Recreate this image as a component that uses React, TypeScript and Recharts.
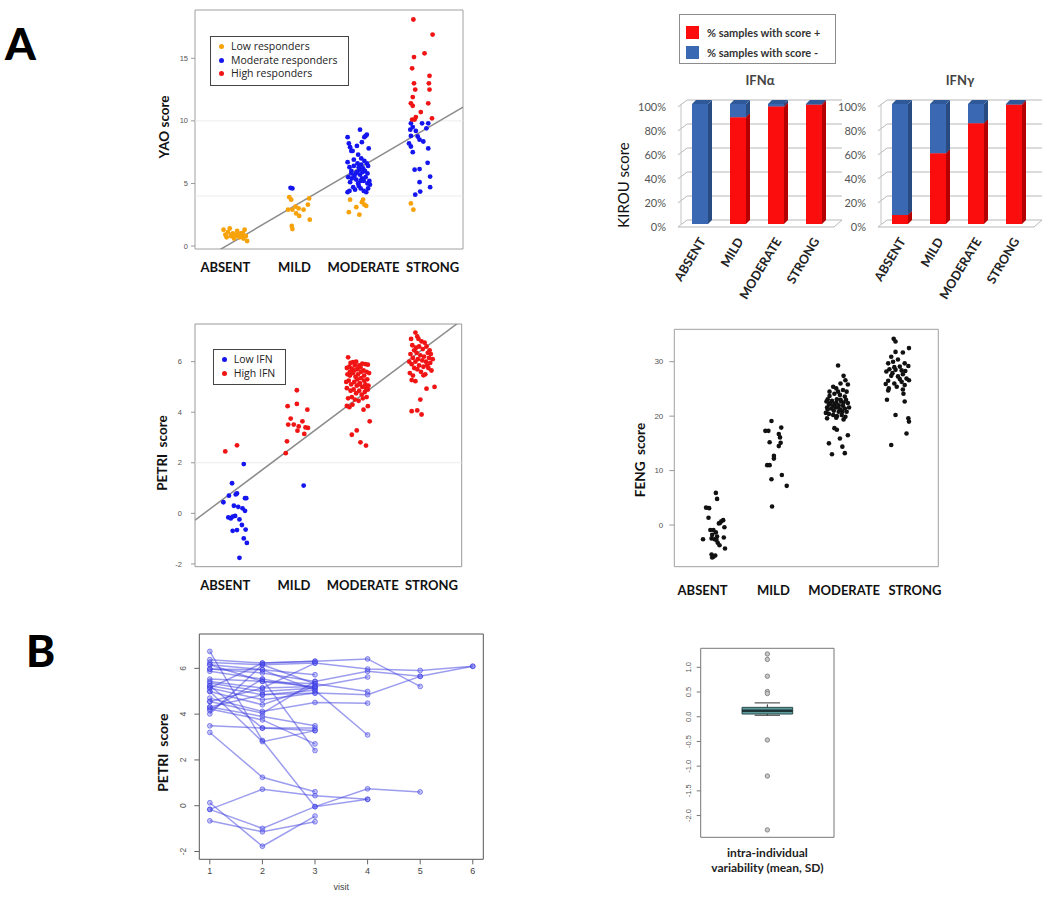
import {
  ScatterChart,
  Scatter,
  BarChart,
  Bar,
  XAxis,
  YAxis,
  CartesianGrid,
  ReferenceArea,
  ReferenceLine,
  Legend,
} from "recharts";

const LABEL_FONT = 'Lato, "Open Sans", sans-serif';
const NUM_FONT = '"Liberation Sans", Arial, sans-serif';

const severity = ["ABSENT", "MILD", "MODERATE", "STRONG"];

// YAO score, x = severity group (1..4) + jitter
const yaoLow = [
  [0.8, 1.3], [0.83, 0.9], [0.85, 0.7], [0.87, 1.1], [0.9, 1.4], [0.92, 0.8], [0.95, 1.0], [0.97, 0.6],
  [1.0, 0.9], [1.02, 1.2], [1.04, 0.8], [1.06, 0.7], [1.08, 1.0], [1.1, 0.9], [1.12, 0.6], [1.14, 1.3],
  [1.16, 0.8], [1.18, 0.4], [0.93, 0.9], [1.05, 0.95], [0.98, 0.75], [1.11, 1.05],
  [1.86, 3.9], [1.89, 3.7], [1.84, 2.9], [1.91, 2.9], [1.97, 2.6], [2.02, 2.4], [2.09, 2.9], [2.16, 3.3],
  [2.18, 3.8], [2.19, 2.1], [1.9, 1.6], [1.91, 1.35], [2.01, 3.0], [1.96, 3.15],
  [2.82, 2.7], [2.84, 3.7], [2.94, 3.1], [2.99, 2.5], [3.03, 3.5], [3.07, 3.3], [3.1, 3.2], [3.05, 3.7],
  [3.82, 3.4], [3.86, 2.9],
];
const yaoMid = [
  [1.88, 4.65], [1.91, 4.6],
  [2.8, 8.7], [2.82, 8.2], [2.84, 7.9], [2.86, 7.6], [2.88, 7.6], [2.95, 8.0], [3.0, 9.3], [3.03, 8.3],
  [3.07, 8.7], [3.09, 8.8], [3.11, 8.9], [3.14, 7.8], [2.97, 7.3], [3.02, 7.0], [2.8, 6.7], [2.83, 6.3],
  [2.86, 6.0], [2.9, 6.4], [2.93, 5.8], [2.96, 6.6], [2.99, 6.1], [3.02, 6.5], [3.05, 6.2], [3.08, 6.0],
  [3.11, 6.6], [3.13, 6.4], [2.81, 5.5], [2.84, 5.1], [2.87, 5.4], [2.91, 5.6], [2.94, 5.3], [2.97, 5.0],
  [3.0, 5.7], [3.03, 5.4], [3.06, 5.2], [3.09, 5.5], [3.12, 5.0], [3.15, 5.2], [2.8, 4.3], [2.83, 4.4],
  [2.89, 4.7], [2.92, 4.5], [2.98, 4.8], [3.01, 4.6], [3.06, 4.4], [3.1, 4.3], [3.13, 4.6], [3.16, 4.9],
  [2.95, 5.9], [3.04, 5.9], [3.07, 6.8], [2.9, 6.9], [2.86, 5.8], [3.12, 5.8], [2.98, 6.3], [3.01, 5.2],
  [3.82, 9.8], [4.0, 9.8], [4.1, 9.8], [3.85, 9.5], [4.07, 9.4], [3.81, 9.3], [3.9, 9.2], [3.82, 8.8],
  [3.93, 8.75], [3.79, 8.2], [3.96, 8.5], [4.02, 8.35], [3.82, 7.95], [4.1, 7.8], [3.85, 7.5], [3.88, 6.1],
  [3.96, 6.15], [4.09, 6.65], [3.96, 5.1], [4.13, 5.55], [4.13, 4.7], [3.97, 4.35], [3.89, 4.1],
];
const yaoHigh = [
  [3.86, 18.1], [4.17, 16.9], [4.04, 15.4], [3.87, 15.1], [3.84, 14.2], [4.12, 13.6], [3.87, 13.0],
  [4.11, 13.0], [3.89, 12.5], [4.12, 12.5], [3.85, 11.9], [3.82, 11.4], [3.85, 11.2], [4.1, 11.4],
  [3.98, 10.7], [3.9, 10.3], [3.88, 10.1], [3.84, 10.1], [4.16, 10.2],
];
const yaoFit = [[0.34, -1.46], [4.66, 11.09]];
const yaoGroups = ["Low responders", "Moderate responders", "High responders"];
const yaoColors = ["#f7a20a", "#1515f0", "#f01414"];

// PETRI score
const petriLow = [
  [1.13, 1.95], [0.94, 1.19], [0.89, 0.7], [1.0, 0.75], [1.02, 0.79], [1.15, 0.6], [1.17, 0.6], [0.8, 0.44],
  [0.97, 0.3], [1.04, 0.26], [1.11, 0.2], [1.15, 0.1], [0.88, -0.16], [0.95, -0.13], [0.99, -0.1],
  [0.92, -0.2], [1.06, -0.24], [1.1, -0.46], [1.16, -0.64], [0.95, -0.69], [1.02, -0.66], [1.13, -0.99],
  [1.18, -1.17], [1.06, -1.76],
  [2.1, 1.1],
];
const petriHigh = [
  [0.83, 2.45], [1.02, 2.69],
  [1.99, 4.87], [1.84, 4.24], [1.99, 4.33], [2.16, 4.1], [1.89, 3.75], [2.08, 3.64], [1.85, 3.51],
  [1.94, 3.51], [2.02, 3.44], [2.13, 3.4], [2.17, 3.38], [2.0, 3.27], [2.11, 3.14], [1.83, 2.85], [1.81, 2.38],
  [2.82, 6.17], [2.86, 5.95], [2.9, 5.98], [2.95, 6.0], [3.0, 5.85], [3.05, 5.92], [3.1, 5.9], [3.14, 5.88],
  [2.8, 5.75], [2.84, 5.8], [2.88, 5.72], [2.93, 5.85], [2.97, 5.7], [3.02, 5.78], [3.07, 5.65], [3.12, 5.6],
  [3.16, 5.55], [2.81, 5.5], [2.85, 5.45], [2.9, 5.55], [2.94, 5.4], [2.98, 5.5], [3.03, 5.35], [3.08, 5.45],
  [3.13, 5.3], [2.79, 5.2], [2.83, 5.25], [2.87, 5.1], [2.92, 5.2], [2.96, 5.05], [3.01, 5.15], [3.05, 5.0],
  [3.1, 5.1], [3.15, 5.05], [2.8, 4.95], [2.86, 4.85], [2.91, 4.9], [2.95, 4.75], [3.0, 4.85], [3.04, 4.7],
  [3.09, 4.8], [3.14, 4.9], [2.82, 4.55], [2.88, 4.6], [2.93, 4.5], [2.99, 4.45], [3.06, 4.55], [3.12, 4.6],
  [2.8, 4.25], [2.84, 4.2], [2.89, 4.3], [3.07, 4.1], [3.14, 4.24], [3.17, 3.64], [2.88, 3.11], [2.96, 3.28],
  [3.02, 2.81], [3.11, 2.68], [2.97, 5.3], [3.03, 5.6], [3.08, 5.25], [2.92, 5.65], [3.11, 4.95], [2.85, 5.6],
  [3.0, 5.1],
  [3.91, 7.15], [3.94, 7.0], [3.84, 6.9], [4.01, 6.8], [4.06, 6.75], [4.09, 6.6], [3.86, 6.65], [3.97, 6.6],
  [4.03, 6.5], [3.89, 6.45], [3.93, 6.35], [4.11, 6.35], [4.16, 6.3], [3.83, 6.3], [3.99, 6.25], [4.05, 6.2],
  [4.13, 6.15], [3.87, 6.15], [3.95, 6.1], [4.02, 6.05], [4.19, 6.1], [3.81, 6.0], [3.91, 6.0], [4.08, 6.0],
  [4.15, 5.95], [3.85, 5.9], [3.97, 5.85], [4.04, 5.8], [4.12, 5.75], [3.89, 5.75], [3.94, 5.7], [4.17, 5.65],
  [3.82, 5.55], [4.0, 5.6], [4.07, 5.5], [3.87, 5.45], [4.04, 5.46], [3.85, 5.27], [3.91, 5.23], [4.22, 5.0],
  [4.09, 4.93], [3.99, 4.5], [3.85, 4.04], [3.94, 4.07], [4.01, 3.91], [4.14, 6.45], [3.96, 6.9], [4.1, 5.85],
  [3.92, 6.55],
];
const petriFit = [[0.34, -0.27], [4.66, 7.64]];
const petriGroups = ["Low IFN", "High IFN"];
const petriColors = ["#1515f0", "#f01414"];

// FENG score
const feng = [
  [1.02, 5.9], [1.04, 4.8], [0.86, 3.2], [0.91, 3.1], [0.9, 1.35], [1.11, 0.7], [1.14, 0.9], [1.07, 0.3],
  [1.16, -0.4], [0.93, -0.9], [0.98, -0.9], [1.02, -1.35], [0.96, -1.8], [1.04, -2.1], [0.81, -2.6],
  [0.95, -2.45], [1.0, -2.6], [1.15, -2.3], [1.08, -3.7], [1.05, -3.25], [1.17, -4.3], [0.95, -5.4],
  [0.98, -5.8], [1.01, -5.6], [0.96, -5.95], [1.03, -2.75], [1.09, 0.4],
  [1.93, 19.1], [1.83, 17.3], [1.88, 17.3], [2.09, 17.9], [2.05, 16.7], [2.07, 16.1], [1.9, 15.2], [2.08, 15.1],
  [2.05, 14.5], [1.97, 12.7], [1.97, 12.2], [1.86, 11.0], [1.9, 11.0], [2.1, 9.2], [1.93, 8.4], [2.18, 7.2],
  [1.94, 3.4],
  [3.02, 29.3], [3.11, 27.4], [3.14, 26.6], [3.18, 25.8], [3.06, 26.0], [2.94, 25.4], [2.99, 25.1], [3.1, 24.8],
  [2.88, 24.5], [2.96, 24.1], [3.05, 23.9], [3.13, 23.6], [2.85, 23.1], [2.92, 22.8], [3.0, 23.1], [3.07, 22.7],
  [3.15, 23.0], [2.83, 22.7], [2.89, 22.4], [2.96, 22.2], [3.03, 22.0], [3.1, 21.9], [3.18, 22.4], [2.84, 21.6],
  [2.91, 21.4], [2.98, 21.6], [3.06, 21.2], [3.13, 21.4], [3.2, 21.6], [2.82, 20.6], [2.87, 20.4], [2.94, 20.2],
  [3.0, 20.0], [3.08, 20.2], [3.14, 19.9], [2.84, 19.6], [2.99, 19.7], [3.11, 19.4], [2.96, 17.8], [3.0, 17.5],
  [3.18, 16.5], [3.05, 15.9], [2.87, 15.0], [3.09, 14.4], [2.92, 13.0], [3.13, 13.2], [3.02, 21.6], [2.95, 21.0],
  [3.09, 20.8], [3.16, 20.8], [2.88, 23.7], [3.02, 24.5], [3.16, 24.5], [2.85, 21.2], [3.03, 20.8], [2.94, 21.9],
  [3.11, 22.5], [2.99, 22.5], [2.87, 22.1], [3.06, 23.0],
  [3.93, 34.2], [3.96, 33.7], [4.18, 32.5], [4.08, 31.7], [3.96, 31.8], [3.89, 30.9], [4.0, 30.4], [3.92, 30.0],
  [3.84, 29.7], [4.11, 29.7], [4.17, 29.2], [4.03, 29.1], [3.86, 28.6], [3.96, 28.5], [4.06, 28.4], [3.81, 28.2],
  [3.91, 27.9], [4.08, 27.7], [4.0, 27.3], [4.14, 26.9], [4.18, 26.6], [3.84, 26.5], [4.06, 26.3], [3.94, 26.0],
  [3.8, 25.9], [4.11, 25.7], [3.98, 25.4], [3.85, 25.1], [4.08, 24.9], [3.84, 24.7], [4.09, 24.1], [3.82, 23.0],
  [4.11, 22.7], [3.96, 20.2], [4.17, 19.6], [4.18, 19.0], [4.14, 16.8], [3.89, 14.7], [4.03, 26.8], [3.89, 27.4],
  [4.12, 28.3], [3.94, 29.0],
];

// KIROU score (% of samples)
const ifnAlphaPos = [0, 89, 98, 99.5];
const ifnAlphaNeg = [100, 11, 2, 0.5];
const ifnGammaPos = [7.5, 59, 84, 99.5];
const ifnGammaNeg = [92.5, 41, 16, 0.5];
const kirouSeries = ["% samples with score +", "% samples with score -"];
const kirouColors = ["#fb0d0d", "#3b68b3"];

// PETRI score per visit, one row per patient
const patientScores = [
  [6.74, 2.85, -0.04, 0.28],
  [6.38, 6.23, 6.31, 6.41, 5.21],
  [6.26, 6.16, 6.23, 5.97, 5.91, 6.09],
  [6.16, 5.94, 5.72],
  [5.97, 5.8, 5.43, 5.87, 5.65, 6.09],
  [5.87, 5.53, 2.41],
  [5.53, 5.43, 5.33, 4.99],
  [5.43, 5.14, 5.21, 5.62],
  [5.36, 4.99, 5.14],
  [5.24, 4.85, 5.04, 3.09],
  [5.14, 4.63, 4.92, 4.85, 5.65],
  [4.99, 4.41, 5.21],
  [4.7, 4.12, 4.51, 4.48],
  [4.55, 4.04, 5.43],
  [4.31, 3.9, 3.49],
  [4.22, 3.75, 2.7],
  [4.16, 5.53, 5.14],
  [4.01, 6.16, 5.33],
  [3.49, 3.39, 3.39],
  [3.2, 1.24, 0.61],
  [5.14, 6.23, 6.31],
  [4.99, 2.8, 3.28],
  [0.13, -1.77, -0.45],
  [-0.16, 0.72, 0.44, 0.28],
  [-0.16, -0.99, -0.04, 0.74, 0.6],
  [-0.66, -1.14, -0.7],
  [5.97, 5.94, 5.04],
  [6.16, 5.43, 5.21],
  [4.31, 4.85, 4.92],
  [5.24, 3.39, 3.28],
  [4.55, 5.14, 6.23],
];

// intra-individual variability: lower whisker, Q1, median, Q3, upper whisker
const boxStats = [0.03, 0.055, 0.12, 0.19, 0.28];
const boxOutliers = [1.27, 1.16, 0.82, 0.51, 0.47, -0.47, -1.2, -2.29];

const pts = (a: number[][]) => a.map(([x, y]) => ({ x, y }));
const labelAnchors = severity.map((_, i) => ({ x: i + 1, y: 0 }));

const dot = (color: string, r = 2.4) => (p: any) => (
  <circle cx={p.cx} cy={p.cy} r={r} fill={color} />
);
const noDot = () => <g />;

const catTick = (dy: number) => (p: any) => (
  <text
    x={p.x}
    y={p.y + dy}
    textAnchor="middle"
    fontFamily={LABEL_FONT}
    fontWeight={700}
    fontSize={13}
    fill="#111"
  >
    {severity[Math.round(p.payload.value) - 1]}
  </text>
);

const yTick =
  (size: number, rotate: boolean, fmt = (v: number) => String(v)) =>
  (p: any) => {
    const { x, y, payload } = p;
    if (rotate) {
      return (
        <text
          x={x}
          y={y}
          transform={`rotate(-90 ${x} ${y})`}
          textAnchor="middle"
          fontSize={size}
          fontFamily={NUM_FONT}
          fill="#555"
        >
          {fmt(payload.value)}
        </text>
      );
    }
    return (
      <text x={x} y={y} dy="0.35em" textAnchor="end" fontSize={size} fontFamily={NUM_FONT} fill="#555">
        {fmt(payload.value)}
      </text>
    );
  };

const yTitle =
  (text: string, dx: number, dy: number, size = 13.5, weight = 700) =>
  ({ viewBox }: any) => {
    const cx = viewBox.x + dx;
    const cy = viewBox.y + viewBox.height / 2 + dy;
    return (
      <text
        x={cx}
        y={cy}
        transform={`rotate(-90 ${cx} ${cy})`}
        textAnchor="middle"
        dominantBaseline="central"
        fontFamily={LABEL_FONT}
        fontWeight={weight}
        fontSize={size}
        fill="#111"
        style={{ whiteSpace: "pre" }}
      >
        {text}
      </text>
    );
  };

const dotLegend = (names: string[], colors: string[]) => () => (
  <div
    style={{
      border: "1px solid #444",
      background: "#fff",
      padding: "3px 10px 4px 8px",
      fontFamily: '"Open Sans", sans-serif',
      fontSize: 10.5,
      color: "#222",
      lineHeight: "13.5px",
      whiteSpace: "nowrap",
    }}
  >
    {names.map((n, i) => (
      <div key={n} style={{ display: "flex", alignItems: "center" }}>
        <span style={{ width: 5, height: 5, borderRadius: 3, background: colors[i], marginRight: 7 }} />
        {n}
      </div>
    ))}
  </div>
);

const frame = (x: number[], y: number[], color: string) => (
  <ReferenceArea
    x1={x[0]}
    x2={x[1]}
    y1={y[0]}
    y2={y[1]}
    fill="none"
    stroke={color}
    ifOverflow="visible"
  />
);

const bar3d = (side: string, top: string) => (p: any) => {
  const { x, y, width: w, height: h, fill } = p;
  if (!h || h <= 0) return <g />;
  const d = 4;
  return (
    <g>
      <path d={`M${x + w},${y} l${d},${-d} v${h} l${-d},${d} Z`} fill={side} />
      <path d={`M${x},${y} l${d},${-d} h${w} l${-d},${d} Z`} fill={top} />
      <rect x={x} y={y} width={w} height={h} fill={fill} />
    </g>
  );
};

const wallLine = (p: any) => {
  const { x1, x2, y1 } = p;
  const bottom = p.y != null && p.height != null ? p.y + p.height : 134;
  let d = `M${x1 - 3},${y1 + 3} L${x1 + 6},${y1 - 4} H${x2 + 9}`;
  if (Math.abs(y1 - bottom) < 1) d += ` M${x1 - 3},${y1 + 3} H${x2 + 1} L${x2 + 9},${y1 - 4}`;
  return <path key={`w-${y1}`} d={d} stroke="#b8b8b8" fill="none" />;
};

const rotTick = (p: any) => (
  <text
    x={p.x + 6}
    y={p.y + 17}
    transform={`rotate(-59 ${p.x + 6} ${p.y + 17})`}
    textAnchor="end"
    fontFamily={LABEL_FONT}
    fontWeight={700}
    fontSize={12.5}
    fill="#222"
  >
    {p.payload.value}
  </text>
);

const pctTick = (p: any) => (
  <text x={p.x} y={p.y + 3} dy="0.35em" textAnchor="end" fontFamily={LABEL_FONT} fontSize={11} fill="#555">
    {p.payload.value}%
  </text>
);

const KirouChart = ({ pos, neg, left }: { pos: number[]; neg: number[]; left: number }) => {
  const data = severity.map((cat, i) => ({ cat, pos: pos[i], neg: neg[i] }));
  const withTitle = left < 700;
  return (
    <div style={{ position: "absolute", left, top: 90 }}>
      <BarChart width={245} height={214} data={data} margin={{ top: 14, right: 12, bottom: 0, left: 0 }}>
        <CartesianGrid vertical={false} horizontal={wallLine} />
        <XAxis
          dataKey="cat"
          tickLine={false}
          axisLine={false}
          height={80}
          tickSize={0}
          tickMargin={0}
          interval={0}
          tick={rotTick}
        />
        <YAxis
          domain={[0, 100]}
          ticks={[0, 20, 40, 60, 80, 100]}
          width={81}
          tickLine={false}
          tickSize={0}
          tickMargin={15}
          axisLine={{ stroke: "#c4c4c4" }}
          tick={pctTick}
          label={withTitle ? { content: yTitle("KIROU score", 23, 21, 15, 400) } : undefined}
        />
        <Bar
          dataKey="pos"
          stackId="k"
          fill={kirouColors[0]}
          barSize={16}
          shape={bar3d("#b40000", "#d80000")}
          isAnimationActive={false}
        />
        <Bar
          dataKey="neg"
          stackId="k"
          fill={kirouColors[1]}
          barSize={16}
          shape={bar3d("#284b82", "#30599a")}
          isAnimationActive={false}
        />
      </BarChart>
    </div>
  );
};

const App = () => {
  return (
    <div
      style={{
        position: "absolute",
        left: 0,
        top: 0,
        width: 1050,
        height: 899,
        background: "#fff",
        overflow: "hidden",
      }}
    >
      <svg width={1050} height={899} style={{ position: "absolute", left: 0, top: 0 }}>
        <text x={5} y={60} fontFamily={LABEL_FONT} fontWeight={900} fontSize={44} fill="#000">
          A
        </text>
        <text x={26} y={667} fontFamily={LABEL_FONT} fontWeight={900} fontSize={44} fill="#000">
          B
        </text>
        <text x={760} y={85} textAnchor="middle" fontFamily={LABEL_FONT} fontWeight={700} fontSize={13} fill="#444">
          IFNα
        </text>
        <text x={960} y={85} textAnchor="middle" fontFamily={LABEL_FONT} fontWeight={700} fontSize={13} fill="#444">
          IFNγ
        </text>
      </svg>

      {/* YAO */}
      <div style={{ position: "absolute", left: 140, top: 0 }}>
        <ScatterChart width={340} height={290} margin={{ top: 10, right: 17, bottom: 0, left: 0 }}>
          <XAxis
            type="number"
            dataKey="x"
            domain={[0.34, 4.66]}
            ticks={[1, 2, 3, 4]}
            tick={false}
            tickSize={4}
            height={8}
            axisLine={false}
            tickLine={{ stroke: "#999" }}
            allowDataOverflow
          />
          <XAxis
            xAxisId="lab"
            type="number"
            dataKey="x"
            domain={[0.56, 4.44]}
            ticks={[1, 2, 3, 4]}
            tick={catTick(15)}
            tickSize={0}
            tickMargin={0}
            height={33}
            axisLine={false}
            tickLine={false}
            allowDataOverflow
          />
          <YAxis
            type="number"
            dataKey="y"
            domain={[-0.24, 18.86]}
            ticks={[0, 5, 10, 15]}
            width={55}
            tickSize={4}
            tickMargin={3}
            tickLine={{ stroke: "#999" }}
            axisLine={false}
            tick={yTick(7.5, false)}
            allowDataOverflow
            label={{ content: yTitle("YAO score", 24, -2.5) }}
          />
          {frame([0.34, 4.66], [-0.24, 18.86], "#a0a0a0")}
          <ReferenceLine y={10} stroke="#ececec" />
          <ReferenceLine y={4} stroke="#ececec" />
          <ReferenceLine
            segment={pts(yaoFit)}
            stroke="#8c8c8c"
            strokeWidth={1.5}
            ifOverflow="hidden"
          />
          <Scatter xAxisId="lab" data={labelAnchors} shape={noDot} legendType="none" isAnimationActive={false} />
          <Scatter name={yaoGroups[0]} data={pts(yaoLow)} fill={yaoColors[0]} shape={dot(yaoColors[0])} isAnimationActive={false} />
          <Scatter name={yaoGroups[1]} data={pts(yaoMid)} fill={yaoColors[1]} shape={dot(yaoColors[1])} isAnimationActive={false} />
          <Scatter name={yaoGroups[2]} data={pts(yaoHigh)} fill={yaoColors[2]} shape={dot(yaoColors[2])} isAnimationActive={false} />
          <Legend
            layout="vertical"
            align="center"
            verticalAlign="middle"
            content={dotLegend(yaoGroups, yaoColors)}
            wrapperStyle={{ left: 70, top: 36, width: "auto" }}
          />
        </ScatterChart>
      </div>

      {/* KIROU */}
      <div
        style={{
          position: "absolute",
          left: 679,
          top: 14,
          width: 157,
          height: 50,
          border: "1px solid #8c8c8c",
          boxSizing: "border-box",
          padding: "7px 0 0 6px",
          fontFamily: LABEL_FONT,
          fontWeight: 700,
          fontSize: 11,
          color: "#333",
        }}
      >
        {kirouSeries.map((s, i) => (
          <div key={s} style={{ display: "flex", alignItems: "center", height: 20 }}>
            <span style={{ width: 13, height: 13, background: kirouColors[i], marginRight: 8 }} />
            {s}
          </div>
        ))}
      </div>
      <KirouChart pos={ifnAlphaPos} neg={ifnAlphaNeg} left={600} />
      <KirouChart pos={ifnGammaPos} neg={ifnGammaNeg} left={800} />

      {/* PETRI */}
      <div style={{ position: "absolute", left: 140, top: 300 }}>
        <ScatterChart width={340} height={300} margin={{ top: 24, right: 18.3, bottom: 0, left: 0 }}>
          <XAxis
            type="number"
            dataKey="x"
            domain={[0.34, 4.66]}
            ticks={[1, 2, 3, 4]}
            tick={false}
            tickSize={4}
            height={8}
            axisLine={false}
            tickLine={{ stroke: "#999" }}
            allowDataOverflow
          />
          <XAxis
            xAxisId="lab"
            type="number"
            dataKey="x"
            domain={[0.56, 4.44]}
            ticks={[1, 2, 3, 4]}
            tick={catTick(15.5)}
            tickSize={0}
            tickMargin={0}
            height={25.3}
            axisLine={false}
            tickLine={false}
            allowDataOverflow
          />
          <YAxis
            type="number"
            dataKey="y"
            domain={[-2.11, 7.49]}
            ticks={[-2, 0, 2, 4, 6]}
            width={55}
            tickSize={4}
            tickMargin={9}
            tickLine={{ stroke: "#999" }}
            axisLine={false}
            tick={yTick(7.5, false)}
            allowDataOverflow
            label={{ content: yTitle("PETRI  score", 21.7, 7.7) }}
          />
          {frame([0.34, 4.66], [-2.11, 7.49], "#999")}
          <ReferenceLine y={2} stroke="#ececec" />
          <ReferenceLine
            segment={pts(petriFit)}
            stroke="#8c8c8c"
            strokeWidth={1.5}
            ifOverflow="hidden"
          />
          <Scatter xAxisId="lab" data={labelAnchors} shape={noDot} legendType="none" isAnimationActive={false} />
          <Scatter name={petriGroups[0]} data={pts(petriLow)} fill={petriColors[0]} shape={dot(petriColors[0])} isAnimationActive={false} />
          <Scatter name={petriGroups[1]} data={pts(petriHigh)} fill={petriColors[1]} shape={dot(petriColors[1])} isAnimationActive={false} />
          <Legend
            layout="vertical"
            align="center"
            verticalAlign="middle"
            content={dotLegend(petriGroups, petriColors)}
            wrapperStyle={{ left: 72.7, top: 49, width: "auto" }}
          />
        </ScatterChart>
      </div>

      {/* FENG */}
      <div style={{ position: "absolute", left: 600, top: 310 }}>
        <ScatterChart width={360} height={300} margin={{ top: 19.3, right: 21.7, bottom: 0, left: 0 }}>
          <XAxis
            type="number"
            dataKey="x"
            domain={[0.34, 4.66]}
            ticks={[1, 2, 3, 4]}
            tick={false}
            tickSize={3}
            height={8}
            axisLine={false}
            tickLine={{ stroke: "#999" }}
            allowDataOverflow
          />
          <XAxis
            xAxisId="lab"
            type="number"
            dataKey="x"
            domain={[0.6, 4.33]}
            ticks={[1, 2, 3, 4]}
            tick={catTick(20)}
            tickSize={0}
            tickMargin={0}
            height={35.3}
            axisLine={false}
            tickLine={false}
            allowDataOverflow
          />
          <YAxis
            type="number"
            dataKey="y"
            domain={[-7.65, 35.95]}
            ticks={[0, 10, 20, 30]}
            width={74.3}
            tickSize={5}
            tickMargin={6}
            tickLine={{ stroke: "#999" }}
            axisLine={false}
            tick={yTick(8, false)}
            allowDataOverflow
            label={{ content: yTitle("FENG  score", 40, 12) }}
          />
          {frame([0.34, 4.66], [-7.65, 35.95], "#a0a0a0")}
          <Scatter xAxisId="lab" data={labelAnchors} shape={noDot} legendType="none" isAnimationActive={false} />
          <Scatter name="FENG" data={pts(feng)} fill="#111" shape={dot("#111", 2.3)} isAnimationActive={false} />
        </ScatterChart>
      </div>

      {/* PETRI over visits */}
      <div style={{ position: "absolute", left: 150, top: 625 }}>
        <ScatterChart width={345} height={274} margin={{ top: 9, right: 11.7, bottom: 0, left: 0 }}>
          <XAxis
            type="number"
            dataKey="x"
            domain={[0.8, 6.2]}
            ticks={[1, 2, 3, 4, 5, 6]}
            tickSize={5}
            tickMargin={3}
            height={39.7}
            axisLine={false}
            tickLine={{ stroke: "#666" }}
            tick={{ fontSize: 9, fontFamily: NUM_FONT, fill: "#444" }}
            allowDataOverflow
            label={{
              content: ({ viewBox }: any) => (
                <text
                  x={viewBox.x + viewBox.width / 2}
                  y={viewBox.y + 27.5}
                  textAnchor="middle"
                  dominantBaseline="central"
                  fontFamily={NUM_FONT}
                  fontSize={9}
                  fill="#444"
                >
                  visit
                </text>
              ),
            }}
          />
          <YAxis
            type="number"
            dataKey="y"
            domain={[-2.34, 7.5]}
            ticks={[-2, 0, 2, 4, 6]}
            width={49.3}
            tickSize={5}
            tickMargin={8}
            tickLine={{ stroke: "#666" }}
            axisLine={false}
            tick={yTick(8.5, true)}
            allowDataOverflow
            label={{ content: yTitle("PETRI  score", 13, 6, 14) }}
          />
          {frame([0.8, 6.2], [-2.34, 7.5], "#555")}
          {patientScores.map((scores, i) => (
            <Scatter
              key={i}
              data={scores.map((y, v) => ({ x: v + 1, y }))}
              fill="#4646e6"
              line={{ stroke: "#3c3ce0", strokeWidth: 1.5, strokeOpacity: 0.5 }}
              shape={(p: any) => (
                <circle
                  cx={p.cx}
                  cy={p.cy}
                  r={2.4}
                  fill="#5a5af0"
                  fillOpacity={0.35}
                  stroke="#3c3ce0"
                  strokeOpacity={0.55}
                />
              )}
              isAnimationActive={false}
            />
          ))}
        </ScatterChart>
      </div>

      {/* intra-individual variability */}
      <div style={{ position: "absolute", left: 680, top: 630 }}>
        <ScatterChart width={170} height={260} margin={{ top: 18.3, right: 16, bottom: 0, left: 0 }}>
          <XAxis
            type="number"
            dataKey="x"
            domain={[0.5, 1.5]}
            tick={false}
            tickLine={false}
            axisLine={false}
            height={52.7}
            allowDataOverflow
            label={{
              content: ({ viewBox }: any) => {
                const cx = viewBox.x + viewBox.width / 2;
                return (
                  <text
                    x={cx}
                    y={viewBox.y + 20}
                    textAnchor="middle"
                    fontFamily={LABEL_FONT}
                    fontWeight={700}
                    fontSize={12}
                    fill="#222"
                  >
                    <tspan x={cx}>intra-individual</tspan>
                    <tspan x={cx} dy={15}>
                      variability (mean, SD)
                    </tspan>
                  </text>
                );
              },
            }}
          />
          <YAxis
            type="number"
            dataKey="y"
            domain={[-2.44, 1.385]}
            ticks={[-2, -1.5, -1, -0.5, 0, 0.5, 1]}
            width={20.7}
            tickSize={4}
            tickMargin={6}
            tickLine={{ stroke: "#777" }}
            axisLine={false}
            tick={yTick(7.5, true, (v) => v.toFixed(1))}
            allowDataOverflow
          />
          {frame([0.5, 1.5], [-2.44, 1.385], "#777")}
          <ReferenceLine
            segment={[{ x: 1, y: boxStats[3] }, { x: 1, y: boxStats[4] }]}
            stroke="#333"
            strokeDasharray="3 2"
          />
          <ReferenceLine
            segment={[{ x: 1, y: boxStats[0] }, { x: 1, y: boxStats[1] }]}
            stroke="#333"
            strokeDasharray="3 2"
          />
          <ReferenceLine
            segment={[{ x: 0.905, y: boxStats[4] }, { x: 1.095, y: boxStats[4] }]}
            stroke="#333"
          />
          <ReferenceLine
            segment={[{ x: 0.905, y: boxStats[0] }, { x: 1.095, y: boxStats[0] }]}
            stroke="#333"
          />
          <ReferenceArea
            x1={0.81}
            x2={1.19}
            y1={boxStats[1]}
            y2={boxStats[3]}
            fill="#5e9c9e"
            fillOpacity={1}
            stroke="#2e4b4c"
          />
          <ReferenceLine
            segment={[{ x: 0.81, y: boxStats[2] }, { x: 1.19, y: boxStats[2] }]}
            stroke="#1d3536"
            strokeWidth={2.5}
          />
          <Scatter
            data={boxOutliers.map((y) => ({ x: 1, y }))}
            fill="#888"
            shape={(p: any) => (
              <circle cx={p.cx} cy={p.cy} r={2.2} fill="#c8c8c8" stroke="#8a8a8a" strokeWidth={1} />
            )}
            isAnimationActive={false}
          />
        </ScatterChart>
      </div>
    </div>
  );
};

export default App;
